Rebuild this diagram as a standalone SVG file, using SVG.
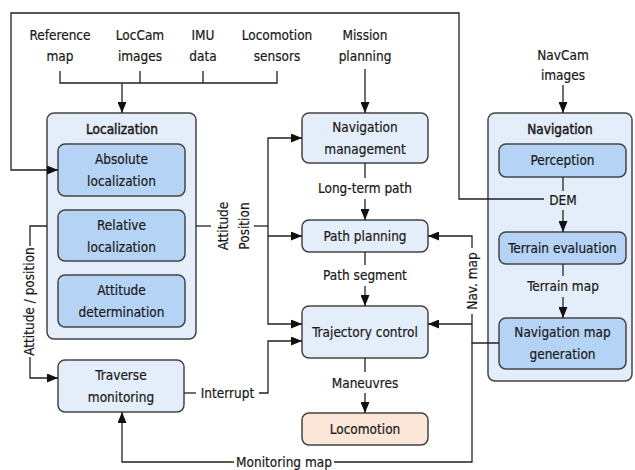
<svg xmlns="http://www.w3.org/2000/svg" width="635" height="470" viewBox="0 0 635 470">
<style>
text{font-family:"DejaVu Sans Condensed","DejaVu Sans",sans-serif;font-stretch:condensed;font-size:13.5px;fill:#1a1a1a;stroke:#1a1a1a;stroke-width:0.2;text-anchor:middle}
.title{stroke-width:0.45}
.outer{fill:#e4eefa;stroke:#444;stroke-width:1.5}
.light{fill:#e4eefa;stroke:#444;stroke-width:1.5}
.inner{fill:#b5d4f5;stroke:#444;stroke-width:1.5}
.loco{fill:#fbe6d7;stroke:#444;stroke-width:1.5}
.c{fill:none;stroke:#222;stroke-width:1.3}
.a{fill:none;stroke:#222;stroke-width:1.3;marker-end:url(#ah)}
</style>
<defs>
<marker id="ah" markerWidth="11" markerHeight="9" refX="11" refY="4.5" orient="auto" markerUnits="userSpaceOnUse">
<path d="M0,0 L11,4.5 L0,9 z" fill="#111"/>
</marker>
</defs>

<!-- input labels -->
<g id="in-reference-map"><text x="60" y="40">Reference</text><text x="60" y="61">map</text></g>
<g id="in-loccam"><text x="140" y="40">LocCam</text><text x="140" y="61">images</text></g>
<g id="in-imu"><text x="203" y="40">IMU</text><text x="203" y="61">data</text></g>
<g id="in-loco-sensors"><text x="277" y="40">Locomotion</text><text x="277" y="61">sensors</text></g>
<g id="in-mission"><text x="365" y="40">Mission</text><text x="365" y="61">planning</text></g>
<g id="in-navcam"><text x="563" y="60">NavCam</text><text x="563" y="80">images</text></g>

<!-- Localization group -->
<g id="localization">
<rect class="outer" x="47" y="113" width="149" height="226" rx="7"/>
<text class="title" x="122" y="134">Localization</text>
</g>
<g id="absolute-localization">
<rect class="inner" x="58" y="144" width="127" height="52" rx="7"/>
<text x="121.5" y="164">Absolute</text><text x="121.5" y="186">localization</text>
</g>
<g id="relative-localization">
<rect class="inner" x="58" y="210" width="127" height="51" rx="7"/>
<text x="121.5" y="229.5">Relative</text><text x="121.5" y="251.5">localization</text>
</g>
<g id="attitude-determination">
<rect class="inner" x="58" y="275" width="127" height="52" rx="7"/>
<text x="121.5" y="295">Attitude</text><text x="121.5" y="317">determination</text>
</g>

<g id="traverse-monitoring">
<rect class="light" x="58" y="360" width="126" height="52" rx="7"/>
<text x="121" y="380">Traverse</text><text x="121" y="402">monitoring</text>
</g>

<!-- centre column -->
<g id="navigation-management">
<rect class="light" x="302" y="113" width="126" height="50" rx="7"/>
<text x="365" y="132">Navigation</text><text x="365" y="154">management</text>
</g>
<g id="path-planning">
<rect class="light" x="302" y="220" width="126" height="32" rx="7"/>
<text x="365" y="240.5">Path planning</text>
</g>
<g id="trajectory-control">
<rect class="light" x="302" y="306" width="126" height="52" rx="7"/>
<text x="365" y="336.5">Trajectory control</text>
</g>
<g id="locomotion">
<rect class="loco" x="302" y="413" width="126" height="32" rx="7"/>
<text x="365" y="434">Locomotion</text>
</g>

<!-- Navigation group -->
<g id="navigation">
<rect class="outer" x="488" y="113" width="144" height="268" rx="7"/>
<text class="title" x="560" y="134">Navigation</text>
</g>
<g id="perception">
<rect class="inner" x="499" y="144" width="127" height="33" rx="7"/>
<text x="562.5" y="165">Perception</text>
</g>
<g id="terrain-evaluation">
<rect class="inner" x="499" y="232" width="127" height="32" rx="7"/>
<text x="562.5" y="253">Terrain evaluation</text>
</g>
<g id="navigation-map-generation">
<rect class="inner" x="499" y="318" width="127" height="51" rx="7"/>
<text x="562.5" y="337">Navigation map</text><text x="562.5" y="359">generation</text>
</g>

<!-- connectors -->
<g id="connectors">
<!-- sensor bus -->
<path class="c" d="M60,71 V83 H277 V71 M140,71 V83 M203,71 V83"/>
<path class="a" d="M122,83 V113"/>
<!-- mission planning -->
<path class="a" d="M365,69 V113"/>
<!-- navcam -->
<path class="a" d="M563,85 V113"/>
<!-- DEM -->
<path class="c" d="M563,177 V191"/>
<path class="a" d="M563,210 V232"/>
<path class="a" d="M544,199 H459 V13 H11 V170 H58"/>
<!-- terrain map -->
<path class="c" d="M563,264 V276"/>
<path class="a" d="M563,297 V318"/>
<!-- attitude / position out of localization -->
<path class="c" d="M196,226 H211"/>
<path class="c" d="M254,226 H268"/>
<path class="a" d="M268,226 V138 H302"/>
<path class="a" d="M268,226 V236 H302"/>
<path class="a" d="M268,236 V324 H302"/>
<!-- long-term path -->
<path class="c" d="M365,163 V178"/>
<path class="a" d="M365,199 V220"/>
<!-- path segment -->
<path class="c" d="M365,252 V265"/>
<path class="a" d="M365,286 V306"/>
<!-- maneuvres -->
<path class="c" d="M365,358 V372"/>
<path class="a" d="M365,393 V413"/>
<!-- interrupt -->
<path class="c" d="M184,393 H196"/>
<path class="a" d="M259,393 H268 V341 H302"/>
<!-- attitude / position to traverse monitoring -->
<path class="c" d="M47,226 H30 V246"/>
<path class="a" d="M30,357 V378 H58"/>
<!-- nav map -->
<path class="c" d="M499,343 H472 V314"/>
<path class="a" d="M472,248 V236 H428"/>
<path class="a" d="M472,324 H428"/>
<!-- monitoring map -->
<path class="c" d="M472,343 V462 H334"/>
<path class="a" d="M234,462 H122 V412"/>
</g>

<!-- connector labels -->
<g id="labels">
<text x="563" y="204.5">DEM</text>
<text x="563" y="291">Terrain map</text>
<text x="365" y="193">Long-term path</text>
<text x="365" y="280">Path segment</text>
<text x="365" y="388">Maneuvres</text>
<text x="227.5" y="398">Interrupt</text>
<text x="284" y="466.5">Monitoring map</text>
<text transform="translate(228,226) rotate(-90)">Attitude</text>
<text transform="translate(249,226) rotate(-90)">Position</text>
<text transform="translate(34,301.5) rotate(-90)">Attitude / position</text>
<text transform="translate(476.5,281) rotate(-90)">Nav. map</text>
</g>
</svg>
